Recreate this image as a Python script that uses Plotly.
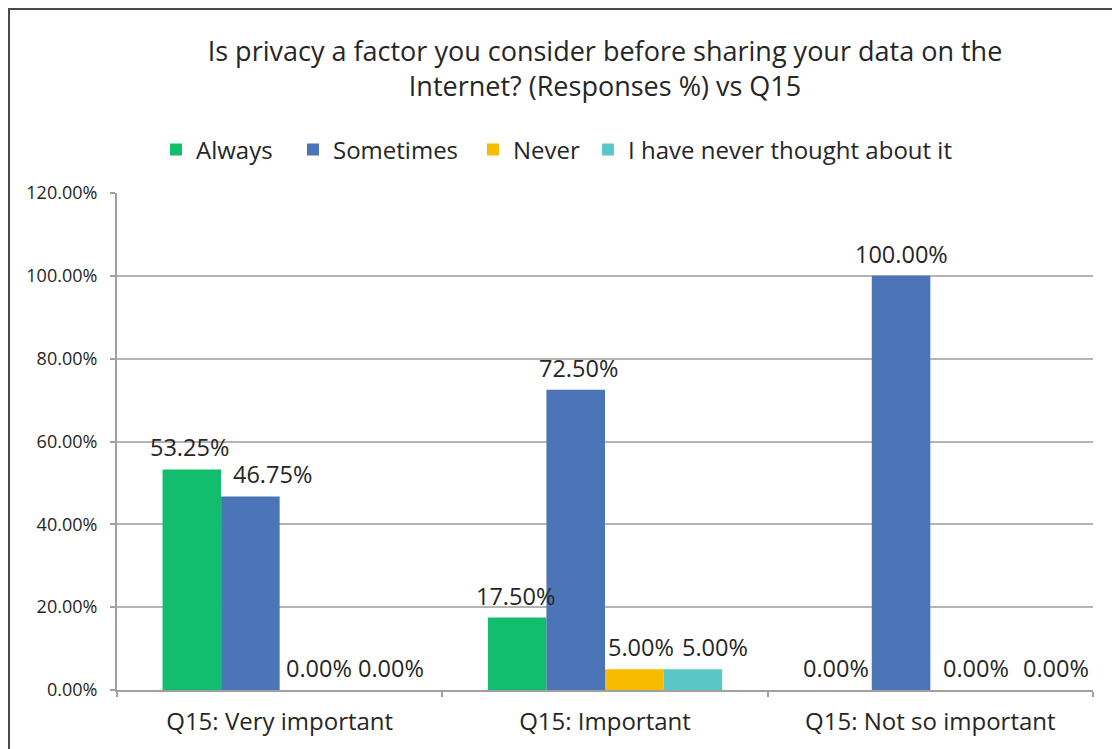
import plotly.graph_objects as go

# Survey results: privacy consideration by Q15 answer
categories = ["Q15: Very important", "Q15: Important", "Q15: Not so important"]
series_names = ["Always", "Sometimes", "Never", "I have never thought about it"]
always = [0.5325, 0.1750, 0.0]
sometimes = [0.4675, 0.7250, 1.0]
never = [0.0, 0.05, 0.0]
never_thought = [0.0, 0.05, 0.0]
series_values = [always, sometimes, never, never_thought]
y_ticks = [0, 0.2, 0.4, 0.6, 0.8, 1.0, 1.2]

colors = ["#12BE6E", "#4B75B6", "#F7BC00", "#5CC6C7"]
# horizontal nudge (px) of each value label so neighbouring labels don't collide
label_nudge = [[-2, -2, -6], [22, 3, 0], [10, 7, 16], [23, 22, 38]]
# left edge (px) of each legend entry's text
legend_text_px = [196, 333, 513, 628]

FONT = "Open Sans, Calibri, Arial, sans-serif"
TEXT = "#262626"

# plot area geometry (px)
W, H = 1112, 749
L, R, T, B = 117, 19, 193, 59
plot_w = W - L - R
plot_h = H - T - B
bargap = 0.28
n_series = len(series_names)
bar_px = plot_w / len(categories) * (1 - bargap) / n_series

fig = go.Figure()
legend_ids = ["legend", "legend2", "legend3", "legend4"]
for name, vals, col, lg in zip(series_names, series_values, colors, legend_ids):
    fig.add_trace(go.Bar(name=name, x=categories, y=vals, legend=lg,
                         marker=dict(color=col, line=dict(width=0))))

annotations = []
for i, vals in enumerate(series_values):
    for j, v in enumerate(vals):
        annotations.append(dict(
            x=categories[j], y=v, xref="x", yref="y",
            text=f"{v * 100:.2f}%", showarrow=False,
            xshift=(i - (n_series - 1) / 2) * bar_px + label_nudge[i][j],
            yshift=22, yanchor="middle",
            font=dict(family=FONT, size=23.5, color=TEXT),
        ))

# chart border (left and top edges)
x0 = (9 - L) / plot_w
x1 = (W + 5 - L) / plot_w
y_top = (H - B - 9) / plot_h
y_bot = -(B + 5) / plot_h
shapes = [
    dict(type="rect", xref="paper", yref="paper", x0=x0, x1=x1, y0=y_bot, y1=y_top,
         line=dict(color="#4a4a4a", width=2), fillcolor="rgba(0,0,0,0)", layer="above"),
]

legend_y = (H - B - 150) / plot_h
legend_common = dict(orientation="h", xanchor="left", xref="paper",
                     y=legend_y, yanchor="middle", yref="paper",
                     font=dict(family=FONT, size=24, color=TEXT),
                     itemwidth=30, bgcolor="rgba(0,0,0,0)")
legends = {}
for lg, tx in zip(legend_ids, legend_text_px):
    legends[lg] = dict(legend_common, x=(tx - 40 - L) / plot_w)

fig.update_layout(
    width=W, height=H,
    margin=dict(l=L, r=R, t=T, b=B),
    paper_bgcolor="white", plot_bgcolor="white",
    barmode="group", bargap=bargap, bargroupgap=0,
    title=dict(
        text="Is privacy a factor you consider before sharing your data on the<br>Internet? (Responses %) vs Q15",
        x=0.5, xref="paper", xanchor="center", y=0.919, yanchor="top",
        font=dict(family=FONT, size=27, color=TEXT),
    ),
    annotations=annotations,
    shapes=shapes,
    showlegend=True,
    **legends,
)
fig.update_yaxes(
    range=[0, 1.2], tickvals=y_ticks, tickformat=".2%",
    showgrid=True, gridcolor="#b4b4b4", gridwidth=2,
    showline=True, linecolor="#a0a0a0", linewidth=2,
    ticks="outside", ticklen=5, tickcolor="#a0a0a0", tickwidth=2,
    ticklabelstandoff=9,
    tickfont=dict(family=FONT, size=18, color=TEXT),
    zeroline=False,
)
fig.update_xaxes(
    type="category", showline=True, linecolor="#a0a0a0", linewidth=2,
    ticks="outside", tickson="boundaries", ticklen=5, tickcolor="#a0a0a0", tickwidth=2,
    ticklabelstandoff=9,
    tickfont=dict(family=FONT, size=24, color=TEXT),
)

fig.write_html("out.html")
